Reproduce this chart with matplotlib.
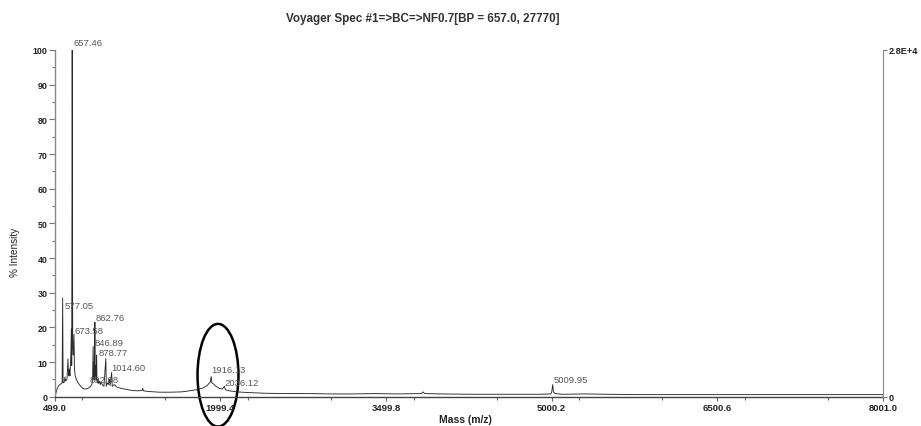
import matplotlib
matplotlib.use("Agg")
import matplotlib.pyplot as plt
from matplotlib.patches import Ellipse
from matplotlib.ticker import MultipleLocator

plt.rcParams['font.family'] = ['Liberation Sans', 'DejaVu Sans']

# ---- data ----
mass = [499.0, 510, 520, 535, 550, 560, 566, 571, 575, 585, 592, 597, 610, 619, 624, 632, 637,
        645, 650, 653, 657.46, 658.5, 662, 667, 673.58, 678, 685, 695, 710, 730, 750, 770, 790, 810,
        825, 835, 842, 846.89, 851, 856, 859, 862.76, 866, 870, 874, 878.77, 882, 887, 892.08,
        896, 905, 912, 920, 930, 945, 962, 966, 975, 985, 995, 1000, 1014.60, 1020, 1040, 1060,
        1080, 1100, 1150, 1200, 1250, 1290, 1296, 1302, 1350, 1450, 1550, 1650, 1700, 1780,
        1840, 1880, 1900, 1908, 1916.13, 1922, 1940, 1960, 1990, 2015, 2036.12, 2045, 2080,
        2150, 2250, 2400, 2600, 2800, 3000, 3200, 3400, 3600, 3820, 3834, 3850, 4000, 4300,
        4600, 4900, 4990, 5000, 5009.95, 5016, 5030, 5100, 5300, 5500, 5800, 6200, 7000, 8001.0]
intensity = [0.0, 1.0, 2.2, 3.2, 3.6, 3.8, 4.0, 28.5, 4.0, 4.2, 5.7, 4.5, 5.0, 10.9, 6.0, 8.0, 6.0,
             12.0, 19.5, 9.0, 100.0, 82.0, 14.0, 12.0, 18.0, 8.0, 6.0, 5.0, 4.0, 3.2, 2.5, 2.2, 2.3, 2.6,
             3.0, 3.5, 4.5, 14.5, 5.0, 10.0, 5.0, 21.5, 6.0, 9.0, 5.0, 12.0, 4.5, 4.0, 5.0,
             3.8, 4.5, 3.5, 4.2, 3.5, 3.0, 11.0, 3.0, 4.0, 3.5, 5.0, 3.2, 7.0, 3.0, 3.5, 2.8,
             2.6, 2.4, 2.1, 1.8, 1.7, 1.8, 2.4, 1.7, 1.5, 1.3, 1.3, 1.4, 1.6, 2.0,
             2.5, 3.2, 4.0, 4.2, 5.8, 4.0, 3.6, 3.0, 2.4, 2.2, 3.0, 2.0, 1.7,
             1.4, 1.2, 1.0, 0.9, 0.9, 0.8, 0.8, 0.9, 0.8, 0.9, 1.4, 0.9, 0.8, 0.7,
             0.7, 0.7, 0.8, 1.2, 3.5, 1.4, 0.9, 0.7, 0.8, 0.7, 0.6, 0.6, 0.6, 0.6]

peak_labels = ["657.46", "577.05", "673.58", "862.76", "846.89", "878.77", "1014.60",
               "892.08", "1916.13", "2036.12", "5009.95"]
label_mass = [665, 589, 680, 873, 864, 894, 1009, 819, 1921, 2041, 5015]
label_y = [102.3, 26.4, 19.0, 22.8, 15.6, 12.8, 8.5, 5.1, 7.8, 4.1, 4.9]

x_ticks = [499.0, 1999.4, 3499.8, 5000.2, 6500.6, 8001.0]
x_tick_labels = ["499.0", "1999.4", "3499.8", "5000.2", "6500.6", "8001.0"]
y_ticks = [0, 10, 20, 30, 40, 50, 60, 70, 80, 90, 100]
right_tick_labels = ["0", "2.8E+4"]

title = "Voyager Spec #1=>BC=>NF0.7[BP = 657.0, 27770]"

# ---- figure ----
fig = plt.figure(figsize=(9.21, 4.27), dpi=100)
ax = fig.add_axes([0.0594, 0.0686, 0.8993, 0.812])

ax.plot(mass, intensity, color='#2a2a2a', lw=0.65)
ax.set_xlim(499.0, 8001.0)
ax.set_ylim(0, 100)

for t, xm, ym in zip(peak_labels, label_mass, label_y):
    ax.text(xm, ym, t, fontsize=6.8, color='#555555', ha='left', va='center', clip_on=False)

ell = Ellipse((1978, 6.2), width=371, height=29.6, fill=False, edgecolor='black',
              lw=1.8, clip_on=False)
ax.add_patch(ell)

# axes styling
ax.spines['top'].set_visible(False)
ax.spines['right'].set_visible(False)
ax.spines['left'].set_color('#8a8a8a')
ax.spines['bottom'].set_color('#444444')
ax.spines['left'].set_linewidth(1.0)
ax.spines['bottom'].set_linewidth(1.0)

ax.set_xticks(x_ticks)
ax.set_xticklabels(x_tick_labels, fontsize=6.8, fontweight='bold', color='#222222')
ax.xaxis.set_minor_locator(MultipleLocator(750.2))
ax.tick_params(axis='x', which='major', length=3, width=0.8, color='#666666', pad=1.5)
ax.tick_params(axis='x', which='minor', length=2.5, width=0.8, color='#666666')

ax.set_yticks(y_ticks)
ax.set_yticklabels([str(v) for v in y_ticks], fontsize=6.4, fontweight='bold', color='#222222')
ax.yaxis.set_minor_locator(MultipleLocator(5))
ax.tick_params(axis='y', which='major', length=4, width=0.8, color='#777777', pad=1)
ax.tick_params(axis='y', which='minor', length=2.5, width=0.8, color='#777777')

# right axis
ax2 = ax.twinx()
ax2.set_ylim(0, 100)
ax2.set_xlim(499.0, 8001.0)
for s in ['top', 'left', 'bottom']:
    ax2.spines[s].set_visible(False)
ax2.spines['right'].set_color('#8a8a8a')
ax2.set_yticks([0, 100])
ax2.set_yticklabels(right_tick_labels, fontsize=6.6, fontweight='bold', color='#222222')
ax2.tick_params(axis='y', length=3, width=0.8, color='#777777', pad=1)

fig.text(0.459, 0.955, title, ha='center', va='center', fontsize=8.4,
         fontweight='bold', color='#333333')
fig.text(0.016, 0.41, "% Intensity", rotation=90, ha='center', va='center',
         fontsize=7.2, color='#222222')
fig.text(0.505, 0.0164, "Mass (m/z)", ha='center', va='center', fontsize=7.5,
         fontweight='bold', color='#222222')

fig.savefig("out.png", dpi=100)
